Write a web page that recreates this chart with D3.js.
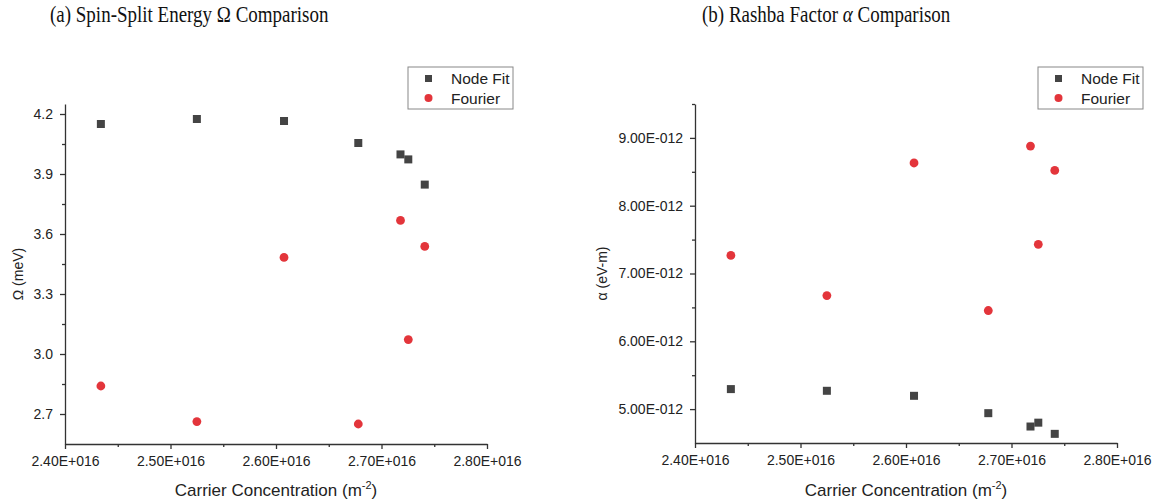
<!DOCTYPE html>
<html>
<head>
<meta charset="utf-8">
<script src="https://cdn.jsdelivr.net/npm/d3@7"></script>
<style>
  html, body { margin: 0; padding: 0; background: #fff; }
  svg { display: block; }
</style>
</head>
<body>
<svg id="chart" width="1156" height="503"></svg>
<script>
// Carrier concentration of each sample (m^-2)
const carrierConc = [2.434e16, 2.525e16, 2.6076e16, 2.678e16, 2.718e16, 2.7254e16, 2.741e16];

// Spin-split energy Omega (meV)
const omegaNodeFit = [4.150, 4.175, 4.165, 4.055, 3.998, 3.973, 3.847];
const omegaFourier = [2.840, 2.662, 3.483, 2.650, 3.668, 3.072, 3.538];

// Rashba factor alpha (eV-m)
const alphaNodeFit = [5.295e-12, 5.270e-12, 5.196e-12, 4.940e-12, 4.743e-12, 4.800e-12, 4.635e-12];
const alphaFourier = [7.266e-12, 6.675e-12, 8.630e-12, 6.454e-12, 8.880e-12, 7.430e-12, 8.520e-12];

// Axis ticks
const xTicks = [2.4e16, 2.5e16, 2.6e16, 2.7e16, 2.8e16];
const xMinorTicks = [2.45e16, 2.55e16, 2.65e16, 2.75e16];
const omegaTicks = [2.7, 3.0, 3.3, 3.6, 3.9, 4.2];
const omegaMinorTicks = [2.85, 3.15, 3.45, 3.75, 4.05];
const alphaTicks = [5e-12, 6e-12, 7e-12, 8e-12, 9e-12];
const alphaMinorTicks = [5.5e-12, 6.5e-12, 7.5e-12, 8.5e-12, 9.5e-12];

const seriesNames = ["Node Fit", "Fourier"];

const AXIS = "#333";
const SQUARE = "#444";
const CIRCLE = "#e3353b";
const SANS = "Liberation Sans, Arial, sans-serif";
const SERIF = "Liberation Serif, Times New Roman, serif";

// Scientific notation with a three-digit exponent, e.g. 2.40E+016
function sci(v) {
  const [m, e] = d3.format(".2e")(v).split("e");
  const n = +e;
  const sign = n < 0 ? "-" : "+";
  return m + "E" + sign + String(Math.abs(n)).padStart(3, "0");
}

const svg = d3.select("#chart");

function panel(opt) {
  const g = svg.append("g");
  const x = d3.scaleLinear().domain([2.4e16, 2.8e16]).range(opt.xRange);
  const y = d3.scaleLinear().domain(opt.yDomain).range(opt.yRange);
  const [x0] = opt.xRange;
  const [yb] = opt.yRange;

  // title (slightly tall serif lettering)
  g.append("text")
    .attr("transform", `translate(${opt.titleX},22) scale(1,1.2)`)
    .attr("font-family", SERIF).attr("font-size", 19).attr("fill", "#111")
    .html(opt.title);

  // minor ticks
  const xAxisMinor = d3.axisBottom(x).tickValues(xMinorTicks).tickSize(3).tickFormat("");
  const yAxisMinor = d3.axisLeft(y).tickValues(opt.yMinor).tickSize(3).tickFormat("");
  g.append("g").attr("transform", `translate(0,${yb})`).call(xAxisMinor)
    .call(s => s.select(".domain").remove());
  g.append("g").attr("transform", `translate(${x0},0)`).call(yAxisMinor)
    .call(s => s.select(".domain").remove());

  // major axes
  const xAxis = d3.axisBottom(x).tickValues(xTicks).tickSize(5).tickSizeOuter(0).tickPadding(7).tickFormat(sci);
  const yAxis = d3.axisLeft(y).tickValues(opt.yTicks).tickSize(5).tickSizeOuter(0).tickPadding(7).tickFormat(opt.yFormat);
  g.append("g").attr("class", "xaxis").attr("transform", `translate(0,${yb})`).call(xAxis);
  g.append("g").attr("class", "yaxis").attr("transform", `translate(${x0},0)`).call(yAxis);

  g.selectAll(".domain, .tick line").attr("stroke", AXIS).attr("stroke-width", 1.3);
  g.selectAll(".tick text").attr("fill", "#222").attr("font-family", SANS).attr("font-size", 14);

  // axis titles
  const xt = g.append("text")
    .attr("x", (opt.xRange[0] + opt.xRange[1]) / 2).attr("y", 496)
    .attr("text-anchor", "middle").attr("font-family", SANS).attr("font-size", 17).attr("fill", "#222");
  xt.append("tspan").text("Carrier Concentration (m");
  xt.append("tspan").attr("dy", -7).attr("font-size", 11).text("-2");
  xt.append("tspan").attr("dy", 7).text(")");

  g.append("text")
    .attr("transform", `translate(${opt.yLabelX},${(opt.yRange[0] + opt.yRange[1]) / 2}) rotate(-90)`)
    .attr("text-anchor", "middle").attr("dominant-baseline", "central")
    .attr("font-family", SANS).attr("font-size", 14).attr("fill", "#222")
    .text(opt.yLabel);

  // data marks
  const sq = 8;
  g.append("g").selectAll("rect").data(opt.nodeFit).join("rect")
    .attr("x", (d, i) => x(carrierConc[i]) - sq / 2)
    .attr("y", d => y(d) - sq / 2)
    .attr("width", sq).attr("height", sq)
    .attr("fill", SQUARE);
  g.append("g").selectAll("circle").data(opt.fourier).join("circle")
    .attr("cx", (d, i) => x(carrierConc[i]))
    .attr("cy", d => y(d))
    .attr("r", 4.4)
    .attr("fill", CIRCLE);

  // legend
  const lg = g.append("g").attr("transform", `translate(${opt.legendX},67)`);
  lg.append("rect").attr("width", 105).attr("height", 42)
    .attr("fill", "#fff").attr("stroke", "#888").attr("stroke-width", 1);
  lg.append("rect").attr("x", 17).attr("y", 8).attr("width", 7).attr("height", 7).attr("fill", SQUARE);
  lg.append("circle").attr("cx", 20.5).attr("cy", 31).attr("r", 4).attr("fill", CIRCLE);
  lg.selectAll("text.lab").data(seriesNames).join("text")
    .attr("class", "lab")
    .attr("x", 43).attr("y", (d, i) => 11.5 + i * 19.5)
    .attr("dominant-baseline", "central")
    .attr("font-family", SANS).attr("font-size", 15.5).attr("fill", "#222")
    .text(d => d);
}

panel({
  title: "(a) Spin-Split Energy Ω Comparison",
  titleX: 50,
  xRange: [65, 487],
  yDomain: [2.55, 4.25],
  yRange: [444, 104],
  yTicks: omegaTicks,
  yMinor: omegaMinorTicks,
  yFormat: d3.format(".1f"),
  yLabel: "Ω (meV)",
  yLabelX: 18,
  nodeFit: omegaNodeFit,
  fourier: omegaFourier,
  legendX: 408
});

panel({
  title: '(b) Rashba Factor <tspan font-style="italic">α</tspan> Comparison',
  titleX: 702,
  xRange: [695, 1117],
  yDomain: [4.5e-12, 9.5e-12],
  yRange: [443, 104],
  yTicks: alphaTicks,
  yMinor: alphaMinorTicks,
  yFormat: sci,
  yLabel: "α (eV-m)",
  yLabelX: 602,
  nodeFit: alphaNodeFit,
  fourier: alphaFourier,
  legendX: 1038
});
</script>
</body>
</html>
